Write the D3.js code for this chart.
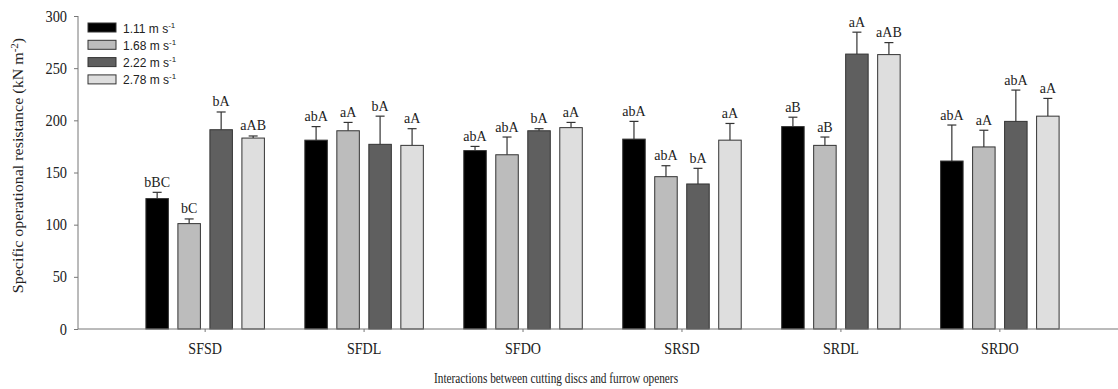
<!DOCTYPE html>
<html><head><meta charset="utf-8">
<script src="https://cdn.jsdelivr.net/npm/d3@7"></script>
<style>body{margin:0;background:#fff}svg{display:block}</style>
</head><body>
<svg id="c" width="1118" height="389"></svg>
<script>
const categories = ["SFSD","SFDL","SFDO","SRSD","SRDL","SRDO"];
const seriesNames = ["1.11","1.68","2.22","2.78"];
const v111 = [125, 181, 171, 182, 194, 161];
const v168 = [101, 190, 167, 146, 176, 174.5];
const v222 = [191, 177, 190, 139, 263.5, 199];
const v278 = [183, 176, 193, 181, 263, 204];
const e111 = [131, 194, 175, 199, 203, 195.5];
const e168 = [105.5, 198, 184, 156.5, 184, 190.5];
const e222 = [208, 204, 192, 154, 284.5, 229];
const e278 = [185, 192, 198, 197, 274.5, 221];
const l111 = ["bBC","abA","abA","abA","aB","abA"];
const l168 = ["bC","aA","abA","abA","aB","aA"];
const l222 = ["bA","bA","bA","bA","aA","abA"];
const l278 = ["aAB","aA","aA","aA","aAB","aA"];
const yTicks = [0,50,100,150,200,250,300];
const colors = ["#000000","#bcbcbc","#5f5f5f","#dedede"];

const values = [v111,v168,v222,v278], errs=[e111,e168,e222,e278], labs=[l111,l168,l222,l278];
const svg = d3.select("#c");
const x0 = 78, x1 = 1127, yB = 329, yT = 16;
const x = d3.scaleBand().domain(categories).range([x0,x1]).paddingInner(0).paddingOuter(0.3);
const y = d3.scaleLinear().domain([0,300]).range([yB,yT]);
const serif = "'Liberation Serif','Times New Roman',serif";
const sans = "'Liberation Sans',Arial,sans-serif";
const bw = 22.5, pitch = 32;

const data = [];
categories.forEach((c,i)=>{ values.forEach((s,j)=>{ data.push({c, j, v:s[i], e:errs[j][i], l:labs[j][i]}); }); });
const bx = d => x(d.c) + x.bandwidth()/2 + (d.j-1.5)*pitch - bw/2;

const g = svg.append("g");
g.selectAll("line.err").data(data).join("line")
  .attr("x1",d=>bx(d)+bw/2).attr("x2",d=>bx(d)+bw/2)
  .attr("y1",d=>y(d.v)).attr("y2",d=>y(d.e)).attr("stroke","#333").attr("stroke-width",1.2);
g.selectAll("line.cap").data(data).join("line")
  .attr("x1",d=>bx(d)+bw/2-4.5).attr("x2",d=>bx(d)+bw/2+4.5)
  .attr("y1",d=>y(d.e)).attr("y2",d=>y(d.e)).attr("stroke","#333").attr("stroke-width",1.2);
g.selectAll("rect.bar").data(data).join("rect")
  .attr("x",d=>bx(d)).attr("width",bw)
  .attr("y",d=>y(d.v)).attr("height",d=>yB-y(d.v))
  .attr("fill",d=>colors[d.j]).attr("stroke","#333").attr("stroke-width",1);
g.selectAll("text.lab").data(data).join("text")
  .attr("x",d=>bx(d)+bw/2).attr("y",d=>y(d.e)-5.5)
  .attr("text-anchor","middle").attr("font-family",serif).attr("font-size",14).attr("fill","#222")
  .text(d=>d.l);

// axes
const ya = svg.append("g").attr("transform",`translate(${x0},0)`)
  .call(d3.axisLeft(y).tickValues(yTicks).tickSize(4).tickPadding(7));
ya.select(".domain").attr("stroke","#777").attr("d",`M0,${yT}V${yB}`);
ya.selectAll(".tick line").attr("stroke","#777");
ya.selectAll("text").attr("font-family",serif).attr("font-size",16).attr("fill","#222")
  .attr("x",-12.2).attr("transform","scale(0.9,1)");

const xa = svg.append("g").attr("transform",`translate(0,${yB})`)
  .call(d3.axisBottom(x).tickSize(3).tickPadding(11));
xa.select(".domain").attr("stroke","#777").attr("d",`M${x0},0H${x1}`);
xa.selectAll(".tick line").attr("stroke","#777");
xa.selectAll("text").attr("font-family",serif).attr("font-size",16).attr("fill","#222")
  .attr("transform","scale(0.88,1)");

svg.append("text").attr("transform","translate(556,383) scale(0.73,1)").attr("text-anchor","middle")
  .attr("font-family",serif).attr("font-size",15.5).attr("fill","#222")
  .text("Interactions between cutting discs and furrow openers");

const yl = svg.append("text").attr("transform","translate(23,165.5) rotate(-90) scale(1,0.9)").attr("text-anchor","middle")
  .attr("font-family",serif).attr("font-size",16).attr("fill","#222");
yl.append("tspan").text("Specific operational resistance (kN m");
yl.append("tspan").attr("dy",-6).attr("font-size",11).text("-2");
yl.append("tspan").attr("dy",6).text(")");

// legend
const lg = svg.append("g").attr("transform","translate(88,23)");
seriesNames.forEach((s,i)=>{
  const r = lg.append("g").attr("transform",`translate(0,${i*17.3})`);
  r.append("rect").attr("width",28).attr("height",9).attr("fill",colors[i]).attr("stroke","#333").attr("stroke-width",1);
  const t = r.append("text").attr("x",35).attr("y",9.5).attr("font-family",sans).attr("font-size",12).attr("fill","#222");
  t.append("tspan").text(s+" m s");
  t.append("tspan").attr("dy",-5).attr("font-size",8).text("-1");
});
</script>
</body></html>
